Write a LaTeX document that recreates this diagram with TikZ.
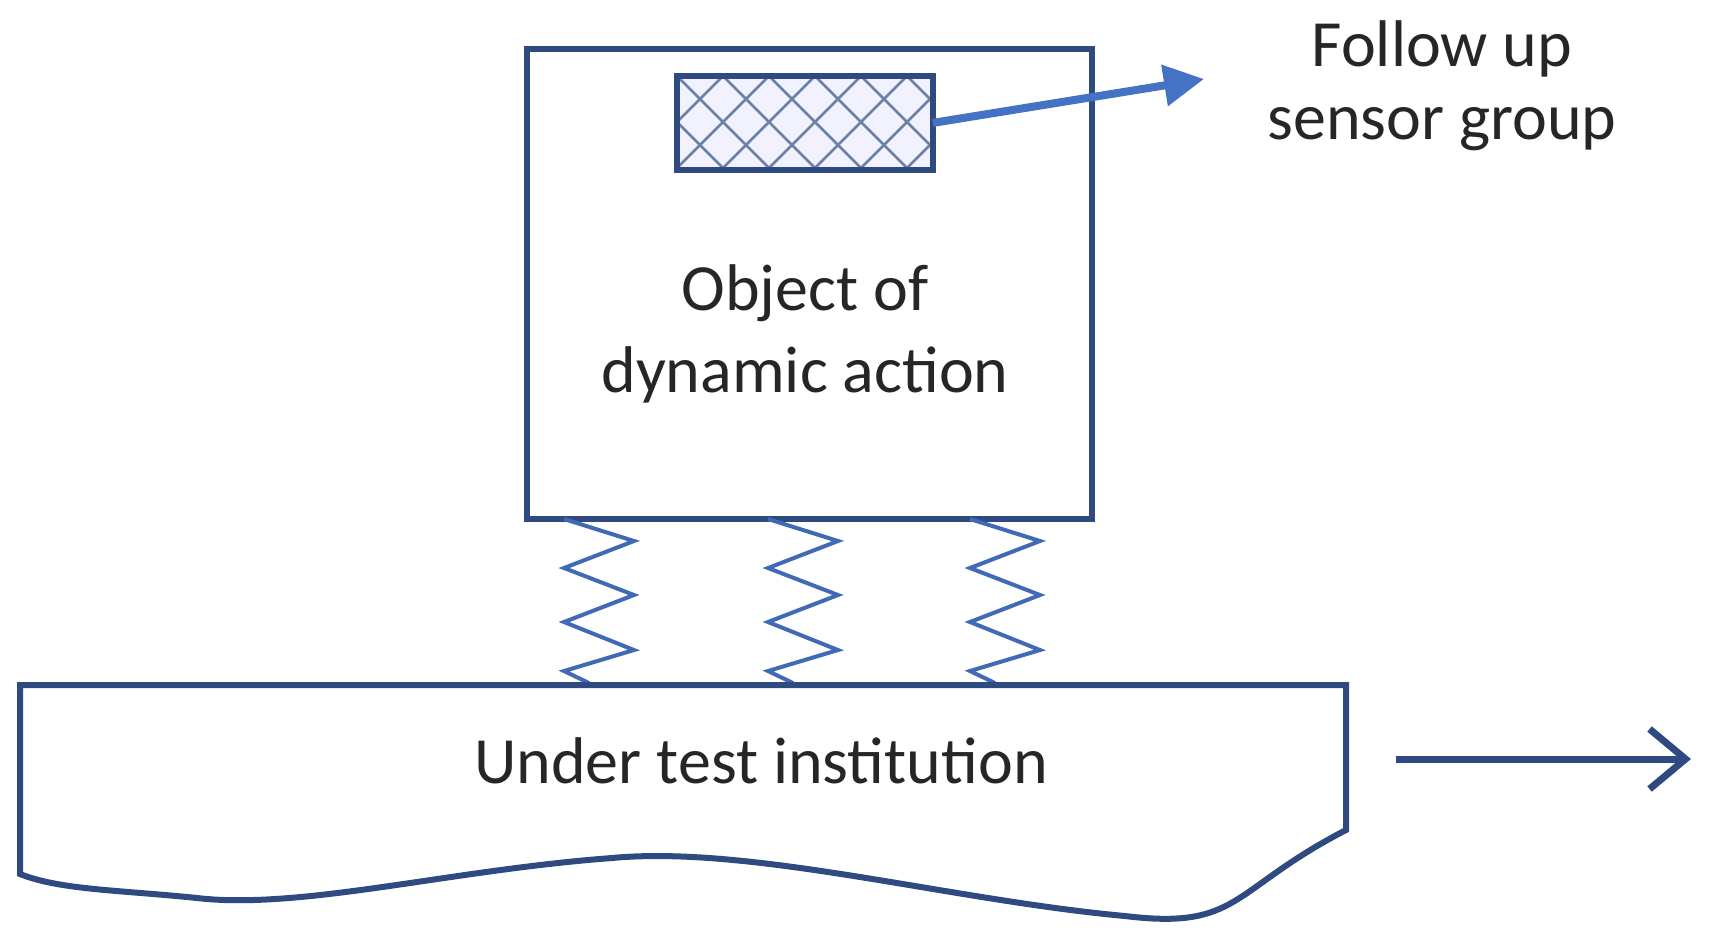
\documentclass[tikz,border=0pt]{standalone}
\usepackage{fontspec}
\setmainfont{Carlito}
\usetikzlibrary{arrows.meta}
\definecolor{dk}{HTML}{2F4A80}
\definecolor{ab}{HTML}{4472C4}
\tikzset{ln/.style={draw=dk,line width=3pt},
  txt/.style={font=\fontsize{33}{38}\selectfont,text=black!85,inner sep=0},
  spring/.style={draw=ab!80!dk,line width=2pt}}
\begin{document}
\begin{tikzpicture}[x=0.5pt,y=-0.5pt]
\useasboundingbox (0,0) rectangle (1713,950);
\node[ln,minimum width=565*0.5pt,minimum height=470*0.5pt,anchor=north west,inner sep=0] (obj) at (524,46) {};
\node[fill=blue!5,minimum width=255*0.5pt,minimum height=93*0.5pt,anchor=north west,inner sep=0] (sens) at (677,76) {};
\begin{scope}
\clip (sens.north west) rectangle (sens.south east);
\foreach \i in {-4,...,12}{
  \draw[dk!70,line width=1.3pt] (677+\i*46,76) -- ++(93,93);
  \draw[dk!70,line width=1.3pt] (677+\i*46,76) -- ++(-93,93);
}
\end{scope}
\draw[ln] (sens.north west) rectangle (sens.south east);
\node[txt] (t1) at (805,293) {Object of};
\node[txt] (t2) at (805,375) {dynamic action};
\node[txt] (f1) at (1442,49) {Follow up};
\node[txt] (f2) at (1442,129) {sensor group};
\coordinate (fa) at (1204,79);
\draw[ab,line width=4pt,-{Triangle[length=20pt,width=20pt]}] (sens.east) -- (fa);
\foreach \x/\n in {599/s1,803/s2,1005/s3}{
  \draw[spring] (\x-35,519) -- (\x+35,541) -- (\x-35,568) -- (\x+35,595) -- (\x-35,622) -- (\x+35,650) -- (\x-35,671) -- (\x-10,683);
}
\draw[ln] (20,685) -- (1346,685) -- (1346,830) .. controls (1230,890) and (1240,930) .. (1125,916)
  .. controls (950,900) and (750,845) .. (612,858) .. controls (450,870) and (300,910) .. (197,898)
  .. controls (120,890) and (60,890) .. (20,874) -- cycle;
\node[txt] (ut) at (761,761) {Under test institution};
\coordinate (ra) at (1396,759);
\coordinate (rb) at (1691,759);
\draw[dk,line width=3.5pt,-{Straight Barb[length=18pt,width=30pt,line width=3.5pt]}] (ra) -- (rb);
\end{tikzpicture}
\end{document}
